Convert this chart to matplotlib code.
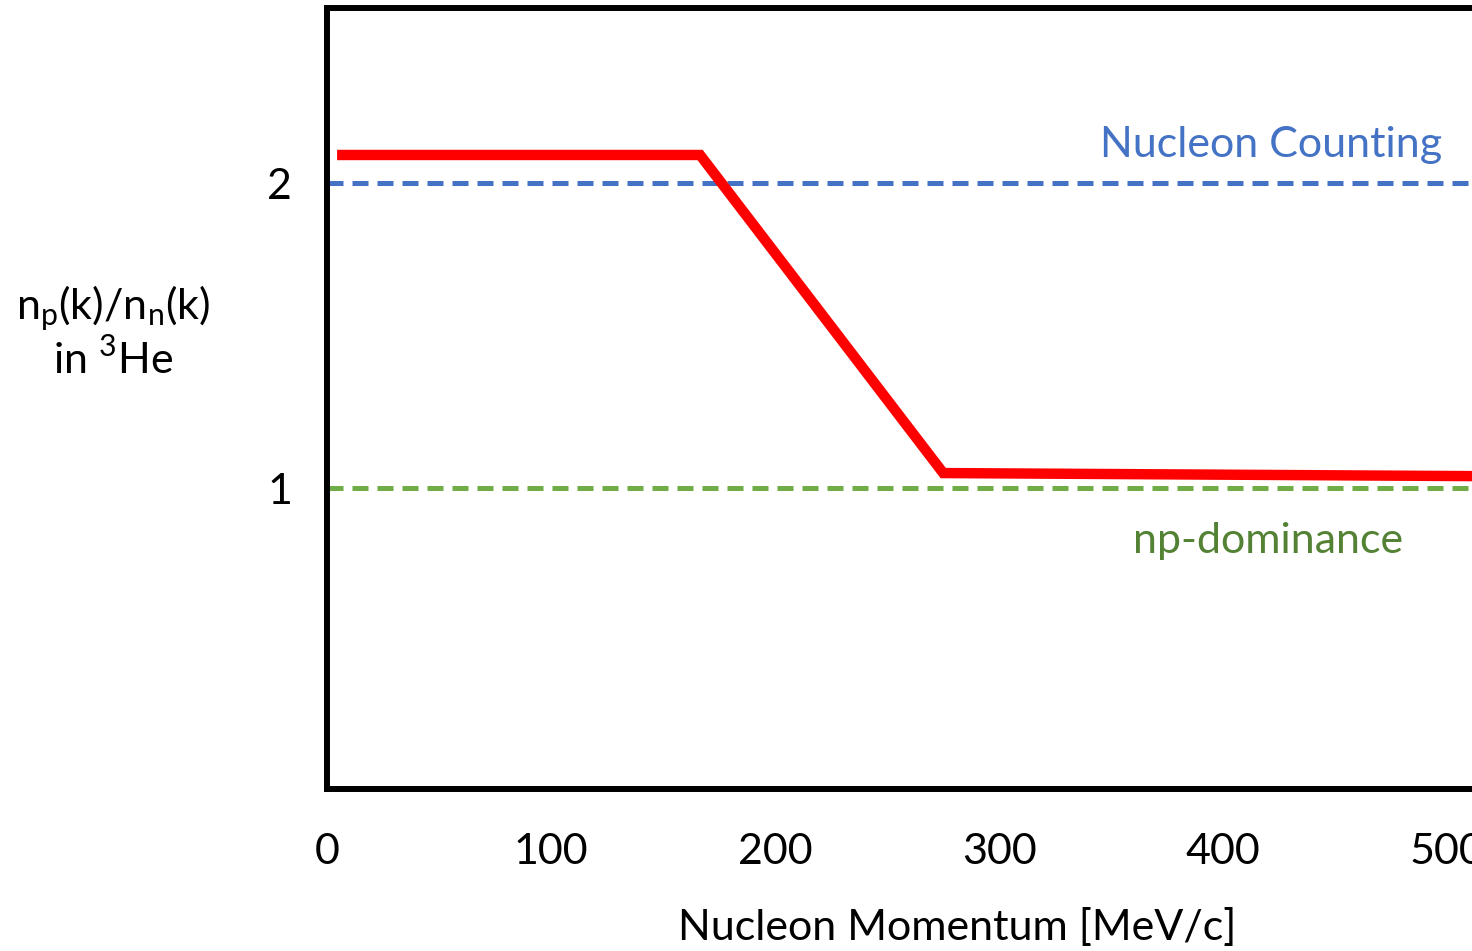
import matplotlib
matplotlib.use("Agg")
import matplotlib.pyplot as plt

# ratio curve n_p(k)/n_n(k)
k_vals = [4.5, 166.5, 275, 511]
ratio = [2.092, 2.092, 1.049, 1.039]

counting_level = 2.0
dominance_level = 1.0

x_ticks = [0, 100, 200, 300, 400, 500]
y_ticks = [1, 2]

plt.rcParams["font.family"] = ["Lato", "DejaVu Sans"]
plt.rcParams["mathtext.fontset"] = "custom"
plt.rcParams["mathtext.rm"] = "Lato"

BLUE = "#4472c4"
GREEN = "#70ad47"
GREEN_TXT = "#548235"
FS = 31

fig = plt.figure(figsize=(14.72, 9.51), dpi=100)
ax = fig.add_axes([327 / 1472, 1 - 789 / 951, 1 - 327 / 1472, (789 - 8) / 951])

ax.axhline(counting_level, color=BLUE, lw=3.6, ls=(0, (3.2, 1.8)), zorder=1)
ax.axhline(dominance_level, color=GREEN, lw=3.6, ls=(0, (3.2, 1.8)), zorder=1)
ax.plot(k_vals, ratio, color="#ff0000", lw=7.5, solid_joinstyle="miter",
        solid_capstyle="butt", zorder=2)

ax.set_xlim(0, 511)
ax.set_ylim(0.013, 2.574)
ax.set_xticks(x_ticks)
ax.set_yticks(y_ticks)
ax.tick_params(length=0, labelsize=FS)
ax.tick_params(axis="x", pad=32)
ax.tick_params(axis="y", pad=25)

for s in ax.spines.values():
    s.set_linewidth(4.3)
ax.spines["right"].set_visible(False)

ax.text(497.8, 2.125, "Nucleon Counting", color=BLUE, fontsize=FS,
        ha="right", va="center")
ax.text(420, 0.826, "np-dominance", color=GREEN_TXT, fontsize=FS,
        ha="center", va="center")

fig.text(113 / 1472, 1 - 332 / 951,
         "n$_\\mathregular{p}$(k)/n$_\\mathregular{n}$(k)\nin $^\\mathregular{3}$He",
         fontsize=FS, ha="center", va="center", multialignment="center",
         linespacing=1.15)
fig.text(957 / 1472, 1 - 928 / 951, "Nucleon Momentum [MeV/c]", fontsize=FS,
         ha="center", va="center")

fig.savefig("out.png", dpi=100)
